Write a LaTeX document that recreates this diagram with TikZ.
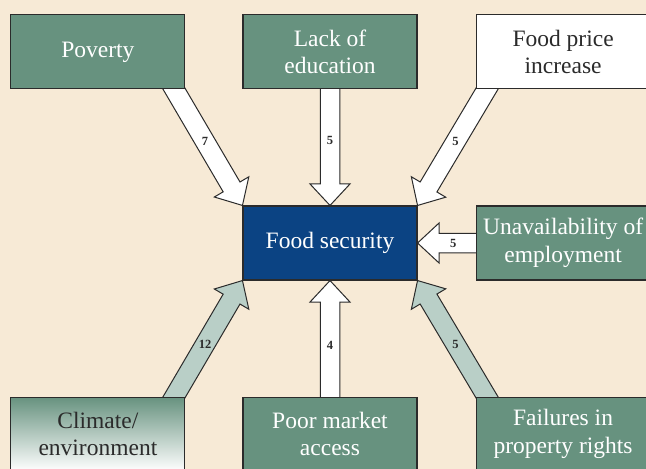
\documentclass[tikz,border=0pt]{standalone}
\usepackage{fontspec}
\setmainfont{Liberation Serif}
\usetikzlibrary{positioning}
\definecolor{paper}{HTML}{F7EAD6}
\definecolor{boxgreen}{HTML}{67927F}
\definecolor{navy}{HTML}{0B4383}
\definecolor{pale}{HTML}{B9CFC7}
\definecolor{edge}{HTML}{2B2B2B}
\tikzstyle{cause} = [rectangle, minimum width=174pt, minimum height=74pt, inner sep=2pt,
align=center, draw=edge, line width=1.1pt, fill=boxgreen, text=white, font=\fontsize{23.5}{27.5}\selectfont]
\tikzstyle{whitecause} = [cause, fill=white, text=edge]
\tikzstyle{shadecause} = [cause, top color=boxgreen, bottom color=white, text=edge]
\tikzstyle{hub} = [cause, fill=navy]
\tikzstyle{arrowbody} = [draw=edge, line width=1pt]
\tikzstyle{weight} = [font=\fontsize{12.5}{14}\selectfont\bfseries, text=edge, inner sep=1pt]
\pgfdeclarelayer{back}
\pgfsetlayers{back,main}
% fat outlined arrow: [fill]{from}{to}{weight}
\newcommand{\causearrow}[4][white]{%
  \coordinate (ca-a) at (#2);
  \coordinate (ca-b) at (#3);
  \pgfpointdiff{\pgfpointanchor{ca-a}{center}}{\pgfpointanchor{ca-b}{center}}%
  \pgfgetlastxy{\cadx}{\cady}%
  \pgfmathsetmacro{\caang}{atan2(\cady,\cadx)}%
  \pgfmathsetmacro{\calen}{veclen(\cadx,\cady)}%
  \begin{scope}[shift={(ca-a)}, rotate=\caang]
    \draw[arrowbody, fill=#1] (-15pt,-9.75pt) -- (\calen pt-21.5pt,-9.75pt) -- (\calen pt-21.5pt,-20pt)
      -- (\calen pt,0pt) -- (\calen pt-21.5pt,20pt) -- (\calen pt-21.5pt,9.75pt) -- (-15pt,9.75pt) -- cycle;
    \node[weight] at ({(\calen pt-21.5pt)/2+4pt},0pt) {#4};
  \end{scope}
}

\begin{document}
\begin{tikzpicture}[x=1pt, y=1pt]
  \useasboundingbox (0,0) rectangle (646,-469);

  \node (fs) [hub] at (330,-243) {Food security};

  \node (pov) [cause, above left=116pt and 57pt of fs] {Poverty};
  \node (edu) [cause, above=116pt of fs] {Lack of\\education};
  \node (price) [whitecause, above right=116pt and 58pt of fs] {Food price\\increase};
  \node (empl) [cause, right=58pt of fs] {Unavailability of\\employment};
  \node (clim) [shadecause, below left=116pt and 57pt of fs] {Climate/\\environment};
  \node (mkt) [cause, below=116pt of fs] {Poor market\\access};
  \node (prop) [cause, below right=116pt and 58pt of fs] {Failures in\\property rights};

  \coordinate (pov-out) at ([xshift=-11pt]pov.south east);
  \coordinate (price-out) at ([xshift=11pt]price.south west);
  \coordinate (clim-out) at ([xshift=-11pt]clim.north east);
  \coordinate (prop-out) at ([xshift=11pt]prop.north west);

  \begin{pgfonlayer}{back}
    \fill[paper] (0,0) rectangle (646,-469);
    \causearrow{pov-out}{fs.north west}{7}
    \causearrow{edu.south}{fs.north}{5}
    \causearrow{price-out}{fs.north east}{5}
    \causearrow{empl.west}{fs.east}{5}
    \causearrow[pale]{clim-out}{fs.south west}{12}
    \causearrow{mkt.north}{fs.south}{4}
    \causearrow[pale]{prop-out}{fs.south east}{5}
  \end{pgfonlayer}
\end{tikzpicture}
\end{document}
